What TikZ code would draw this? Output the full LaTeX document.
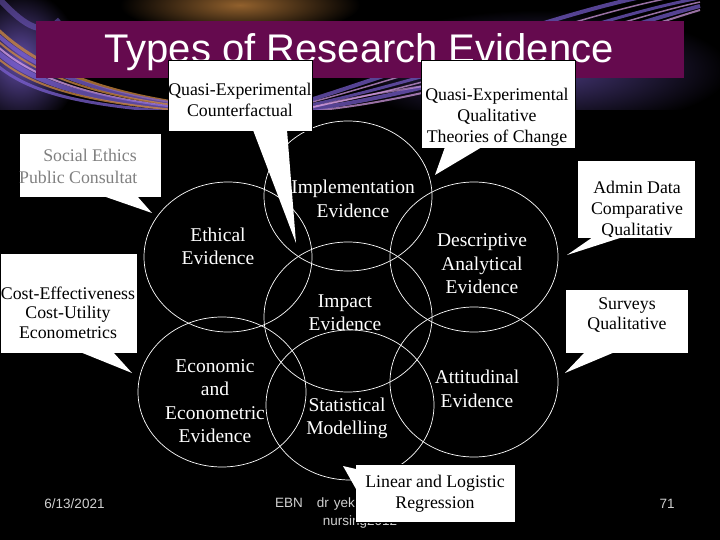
\documentclass[tikz,border=0pt]{standalone}
\usepackage{fontspec}
\setmainfont{Liberation Serif}
\newfontfamily\arialf{Liberation Sans}
\usetikzlibrary{shapes.geometric}
\definecolor{titlebar}{HTML}{650A4E}
\definecolor{footgray}{HTML}{D0D0D0}
\definecolor{calgray}{HTML}{808080}
\definecolor{swpurple}{HTML}{7A5FD0}
\definecolor{swpink}{HTML}{D9A0E8}
\definecolor{sworange}{HTML}{D08A40}
\begin{document}
\begin{tikzpicture}[x=1pt,y=-1pt,
  venn/.style={draw=white, line width=0.7pt, ellipse, minimum width=168pt, minimum height=150pt, inner sep=0pt},
  vtext/.style={text=white, font=\fontsize{19.5}{23.5}\selectfont, align=center, inner sep=0pt},
  callbox/.style={fill=white, draw=black, line width=0.4pt, inner sep=0pt, anchor=north west},
  ctext/.style={text=black, font=\fontsize{17.8}{20.8}\selectfont, align=center, inner sep=0pt},
  tailfill/.style={fill=white, draw=none},
  foot/.style={text=footgray, font=\arialf\fontsize{13.5}{16}\selectfont, inner sep=0pt}
]
\useasboundingbox (0,0) rectangle (720,540);
\fill[black] (0,0) rectangle (720,540);

% decorative swirl band at the top
\begin{scope}
\clip (0,0) rectangle (720,110);
\shade[inner color=sworange!70!black, outer color=black] (240,5) ellipse [x radius=120pt, y radius=30pt];
\shade[inner color=swpurple!80!black, outer color=black] (20,60) ellipse [x radius=60pt, y radius=70pt];
\shade[inner color=swpurple!60!black, outer color=black] (540,70) ellipse [x radius=190pt, y radius=60pt];
\foreach \o/\c/\w in {0/sworange/3, 6/swpurple/4, 12/sworange/2, 18/swpink/2, 24/swpurple/5, 30/sworange/2, 38/swpurple/3}{
  \draw[\c, line width=\w pt, opacity=0.75] (-20,{10+\o}) .. controls (20,{60+\o}) and (90,{95+\o*0.3}) .. (220,{108+\o*0.2});
}
\foreach \o/\c/\w in {0/swpink/2, 8/swpurple/4, 16/swpink/1.5, 24/swpurple/3, 34/swpink/1.5, 44/swpurple/4}{
  \draw[\c, line width=\w pt, opacity=0.7] (300,{112-\o*0.2}) .. controls (450,{100-\o}) and (600,{40-\o}) .. (700,{10-\o*0.5});
}
\draw[swpink, line width=2pt, opacity=0.6] (310,108) .. controls (360,95) and (400,90) .. (430,85);
\draw[swpurple, line width=6pt, opacity=0.5] (0,0) .. controls (20,20) and (40,40) .. (60,20);
\end{scope}

% title
\fill[titlebar] (36,21) rectangle (684,78);
\node[text=white, font=\arialf\fontsize{40}{40}\selectfont, anchor=base, inner sep=0pt] (title) at (359,63) {Types of Research Evidence};

% footer
\node[foot] (date) at (74.5,504) {6/13/2021};
\node[foot, anchor=west] (ebn) at (275,504) {EBN\hspace{14pt}dr\hspace{5pt}yek};
\node[foot] (nurs) at (360,522) {nursing2012};
\node[foot] (page) at (667,504) {71};

% Venn ellipses
\node[venn] (impl) at (348,196) {};
\node[venn] (eth) at (228,257) {};
\node[venn] (desc) at (474,257) {};
\node[venn] (imp) at (348,317) {};
\node[venn] (econ) at (222,392) {};
\node[venn] (stat) at (350,405) {};
\node[venn] (att) at (474,382) {};

\node[vtext] (implt) at (353,199) {Implementation\\Evidence};
\node[vtext] (etht) at (218,246.5) {Ethical\\Evidence};
\node[vtext] (desct) at (482,264) {Descriptive\\Analytical\\Evidence};
\node[vtext] (impt) at (345,312.5) {Impact\\Evidence};
\node[vtext] (econt) at (215,401) {Economic\\and\\Econometric\\Evidence};
\node[vtext] (statt) at (347,418.5) {Statistical\\Modelling};
\node[vtext] (attt) at (477,389) {Attitudinal\\Evidence};

% callout 1
\node[callbox, minimum width=144pt, minimum height=71pt] (c1) at (168,60) {};
\coordinate (c1tip) at (296,243);
\fill[tailfill] (253,130) -- (c1tip) -- (287,130) -- cycle;
\node[ctext] (c1t) at (240,100) {Quasi-Experimental\\Counterfactual};

% callout 2
\node[callbox, minimum width=154pt, minimum height=88pt] (c2) at (421,60) {};
\coordinate (c2tip) at (435,175);
\fill[tailfill] (445,147) -- (c2tip) -- (482,147) -- cycle;
\node[ctext] (c2t) at (497,117) {Quasi-Experimental\\Qualitative\\Theories of Change};

% callout 3
\node[callbox, minimum width=142pt, minimum height=64pt] (c3) at (19,133) {};
\coordinate (c3tip) at (152,213);
\fill[tailfill] (103,196) -- (c3tip) -- (137,196) -- cycle;
\node[ctext, text=calgray] (c3a) at (90,155) {Social Ethics};
\node[ctext, text=calgray, anchor=west] (c3b) at (19,177) {Public Consultat};

% callout 4
\node[callbox, minimum width=137pt, minimum height=100pt] (c4) at (0,253) {};
\coordinate (c4tip) at (132,373);
\fill[tailfill] (80,352) -- (c4tip) -- (113,352) -- cycle;
\node[ctext, font=\fontsize{17.8}{19.6}\selectfont] (c4t) at (68,312.5) {Cost-Effectiveness\\Cost-Utility\\Econometrics};

% callout 5
\node[callbox, minimum width=118pt, minimum height=78pt] (c5) at (577,160) {};
\node[ctext] (c5t) at (637,210) {Admin Data\\Comparative\\Qualitativ};
\coordinate (c5tip) at (567,255);
\fill[tailfill] (593,237) -- (c5tip) -- (623,237) -- cycle;

% callout 6
\node[callbox, minimum width=123pt, minimum height=64pt] (c6) at (565,289) {};
\coordinate (c6tip) at (565,373);
\fill[tailfill] (585,352) -- (c6tip) -- (615,352) -- cycle;
\node[ctext] (c6t) at (627,315) {Surveys\\Qualitative};

% callout 7
\node[callbox, minimum width=160pt, minimum height=58pt] (c7) at (355,464) {};
\coordinate (c7tip) at (343,466);
\fill[tailfill] (356,469) -- (c7tip) -- (356,489) -- cycle;
\node[ctext] (c7t) at (435,493.5) {Linear and Logistic\\Regression};
\end{tikzpicture}
\end{document}
